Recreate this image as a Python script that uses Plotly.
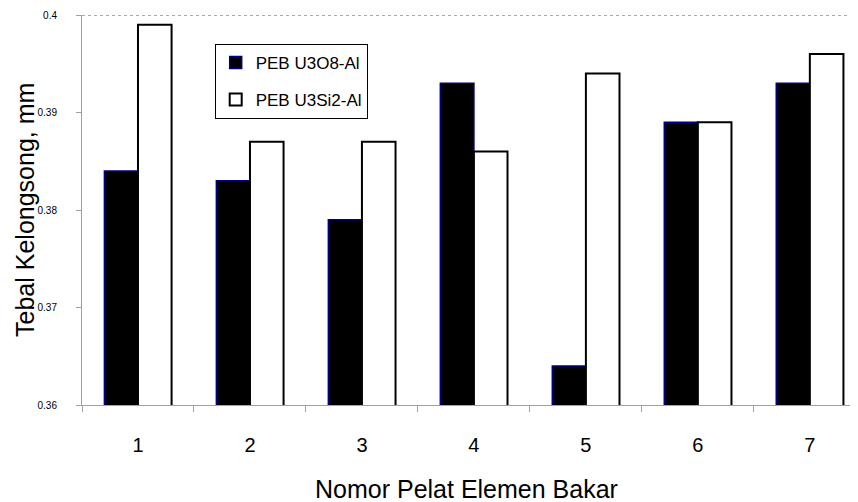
import plotly.graph_objects as go

categories = [1, 2, 3, 4, 5, 6, 7]
tick_labels = ["1", "2", "3", "4", "5", "6", "7"]
u3o8 = [0.384, 0.383, 0.379, 0.393, 0.364, 0.389, 0.393]
u3si2 = [0.399, 0.387, 0.387, 0.386, 0.394, 0.389, 0.396]
y_ticks = [0.36, 0.37, 0.38, 0.39, 0.4]
y_tick_labels = ["0.36", "0.37", "0.38", "0.39", "0.4"]

FONT = "Liberation Sans, Arial, sans-serif"

fig = go.Figure()
fig.add_trace(go.Bar(
    x=categories, y=u3o8, name="PEB U3O8-Al",
    marker=dict(color="black", line=dict(color="#000080", width=1.5)),
    legendgroup="a",
))
fig.add_trace(go.Bar(
    x=categories, y=u3si2, name="PEB U3Si2-Al",
    marker=dict(color="white", line=dict(color="black", width=2)),
    legendgroup="b",
))

# the page has an 8px body margin, so the figure is 8px smaller than the window
fig.update_layout(
    width=850, height=494,
    margin=dict(l=74, r=0, t=7, b=97),
    paper_bgcolor="white", plot_bgcolor="white",
    barmode="group", bargap=0.4, bargroupgap=0,
    font=dict(family=FONT, color="black"),
    showlegend=True,
    legend=dict(
        x=0.171, y=0.926, xanchor="left", yanchor="top",
        bgcolor="white", bordercolor="black", borderwidth=1,
        font=dict(size=17, family=FONT),
        traceorder="grouped", tracegroupgap=12,
        itemwidth=30,
    ),
    xaxis=dict(
        range=[0.5, 7.43],
        tickvals=categories, ticktext=tick_labels,
        ticks="", tickfont=dict(size=20),
        ticklabelstandoff=22,
        showline=True, linecolor="#a0a0a0", linewidth=1,
        showgrid=False, zeroline=False,
        minor=dict(tickvals=[0.5, 1.5, 2.5, 3.5, 4.5, 5.5, 6.5, 7.5],
                   ticks="outside", ticklen=6, tickcolor="#a0a0a0", showgrid=False),
    ),
    yaxis=dict(
        range=[0.36, 0.4],
        tickvals=y_ticks, ticktext=y_tick_labels,
        ticks="outside", ticklen=5, tickcolor="#a0a0a0",
        tickfont=dict(size=10),
        ticklabelstandoff=17,
        showline=True, linecolor="#a0a0a0", linewidth=1,
        showgrid=False, zeroline=False,
    ),
    shapes=[dict(type="line", xref="paper", yref="y", x0=0, x1=1, y0=0.4, y1=0.4,
                 line=dict(color="#555555", width=1, dash="dot"))],
    annotations=[
        dict(text="Tebal Kelongsong, mm", xref="paper", yref="paper",
             x=-0.0735, y=0.5, xanchor="center", yanchor="middle",
             textangle=-90, showarrow=False, font=dict(size=25, family=FONT)),
        dict(text="Nomor Pelat Elemen Bakar", xref="paper", yref="paper",
             x=0.495, y=-0.215, xanchor="center", yanchor="middle",
             showarrow=False, font=dict(size=25, family=FONT)),
    ],
)

fig.write_html("out.html")
